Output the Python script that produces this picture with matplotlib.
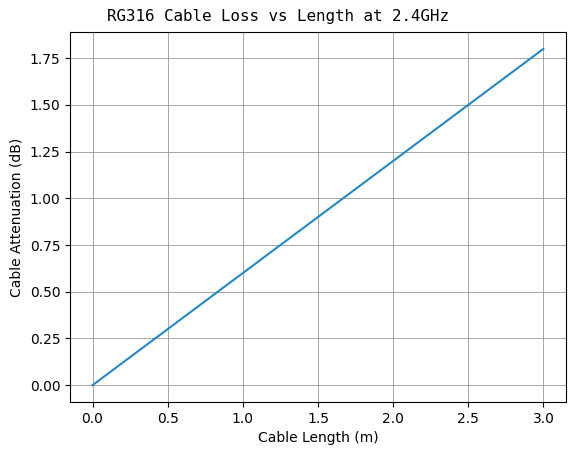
import matplotlib
matplotlib.use("Agg")
import matplotlib.pyplot as plt

# cable length (m) and attenuation (dB) at 2.4GHz
length_m = [0.0, 0.5, 1.0, 1.5, 2.0, 2.5, 3.0]
loss_db = [0.0, 0.3, 0.6, 0.9, 1.2, 1.5, 1.8]

fig = plt.figure(figsize=(5.76, 4.55), dpi=100)
ax = fig.add_axes([0.1215, 0.1165, 0.861, 0.813])

ax.plot(length_m, loss_db, color="#2389c4", linewidth=1.5)
ax.grid(True, color="0.6", linewidth=0.6)

ax.set_xlabel("Cable Length (m)", fontsize=10)
ax.set_ylabel("Cable Attenuation (dB)", fontsize=10)
ax.tick_params(labelsize=10)

fig.text(107 / 576, 0.954, "RG316 Cable Loss vs Length at 2.4GHz",
         family="DejaVu Sans Mono", fontsize=11.4, ha="left", va="baseline")

fig.savefig("out.png", dpi=100)
